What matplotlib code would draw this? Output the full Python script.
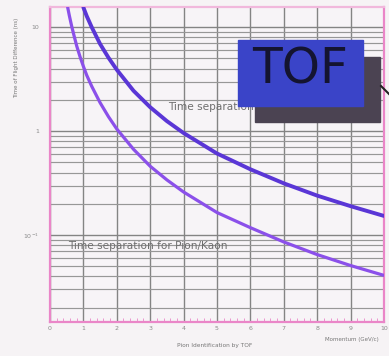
import matplotlib.pyplot as plt
from matplotlib.patches import Rectangle
from matplotlib.ticker import FixedLocator, NullFormatter

# momentum (GeV/c) and time-of-flight difference (ns), read per curve
p_kp = [1.0, 1.1, 1.25, 1.5, 1.75, 2.0, 2.5, 3.0, 3.5, 4.0, 5.0, 6.0, 7.0, 8.0, 9.0, 10.0]
dt_kp = [15.5, 12.8, 10.0, 6.9, 5.1, 3.9, 2.45, 1.7, 1.25, 0.96, 0.61, 0.43, 0.315, 0.24, 0.19, 0.153]

p_pik = [0.53, 0.58, 0.65, 0.72, 0.8, 0.9, 1.0, 1.1, 1.25, 1.5, 1.75, 2.0, 2.5, 3.0,
         3.5, 4.0, 5.0, 6.0, 7.0, 8.0, 9.0, 10.0]
dt_pik = [15.5, 12.9, 10.2, 8.3, 6.6, 5.2, 4.2, 3.45, 2.7, 1.88, 1.38, 1.05, 0.67, 0.46,
          0.34, 0.26, 0.165, 0.118, 0.086, 0.065, 0.051, 0.041]

x_ticks = list(range(0, 11))
y_ticks = [0.1, 1, 10]
y_tick_labels = ['10$^{-1}$', '1', '10']

pink = '#ea86c8'
fig = plt.figure(figsize=(3.89, 3.56), dpi=100)
fig.patch.set_facecolor('#f6f3f5')
ax = fig.add_axes([0.1285, 0.0955, 0.8585, 0.8845])
ax.set_facecolor('#f7f4f7')
ax.set_yscale('log')
ax.set_xlim(0, 10)
ax.set_ylim(0.0146, 15.6)

# grid: vertical at every unit, horizontal at every log step
ax.xaxis.set_major_locator(FixedLocator(x_ticks))
ax.xaxis.set_minor_locator(FixedLocator([i * 0.2 for i in range(51)]))
minor_y = [m * 10.0 ** k for k in (-2, -1, 0, 1) for m in range(2, 10)]
ax.yaxis.set_major_locator(FixedLocator(y_ticks))
ax.yaxis.set_minor_locator(FixedLocator(minor_y))
ax.yaxis.set_minor_formatter(NullFormatter())
ax.set_yticklabels(y_tick_labels)
ax.grid(True, which='major', axis='both', color='#848484', lw=1.0)
ax.grid(True, which='minor', axis='y', color='#979797', lw=0.85)
ax.tick_params(axis='x', which='major', labelsize=4.5, colors='#8a8a8a', length=0, pad=3)
ax.tick_params(axis='x', which='minor', direction='in', length=3, color=pink, width=0.6)
ax.tick_params(axis='y', which='both', labelsize=4.5, colors='#8a8a8a', length=0, pad=8)
ax.set_axisbelow(True)
for side, s in ax.spines.items():
    s.set_color(pink)
    s.set_linewidth(1.6)
ax.spines['top'].set_color('#f1b8dc')

ax.plot(p_kp, dt_kp, color='#5a36d6', lw=2.8, solid_capstyle='round', zorder=3)
ax.plot(p_pik, dt_pik, color='#8b50ea', lw=2.3, solid_capstyle='round', zorder=3)

ax.text(3.55, 1.72, 'Time separation for Kaon/Proton', fontsize=7.6,
        color='#6e6e6e', va='center', zorder=2)
ax.text(0.55, 0.078, 'Time separation for Pion/Kaon', fontsize=7.6,
        color='#6e6e6e', va='center', zorder=2)

# TOF box with drop shadow, in figure pixels
W, H = 389, 356
fig.patches.append(Rectangle((255 / W, 1 - 122 / H), 125 / W, 65 / H,
                             transform=fig.transFigure, color='#4b4352', zorder=5))
fig.patches.append(Rectangle((238 / W, 1 - 106 / H), 125 / W, 66 / H,
                             transform=fig.transFigure, color='#3a44c8', zorder=6))
fig.text(300 / W, 1 - 70 / H, 'TOF', fontsize=35, color='#141430',
         ha='center', va='center', zorder=7)
fig.lines.append(plt.Line2D([381 / W, 389 / W], [1 - 86 / H, 1 - 94 / H],
                            transform=fig.transFigure, color='#222', lw=1.5, zorder=7))

fig.text(17 / W, 1 - 58 / H, 'Time of Flight Difference (ns)', rotation=90,
         fontsize=4, color='#777', ha='center', va='center')
fig.text(215 / W, 1 - 346 / H, 'Pion Identification by TOF', fontsize=4.2,
         color='#777', ha='center', va='center')
fig.text(352 / W, 1 - 339 / H, 'Momentum (GeV/c)', fontsize=4,
         color='#777', ha='center', va='center')

fig.savefig('out.png', dpi=100, facecolor=fig.get_facecolor())
